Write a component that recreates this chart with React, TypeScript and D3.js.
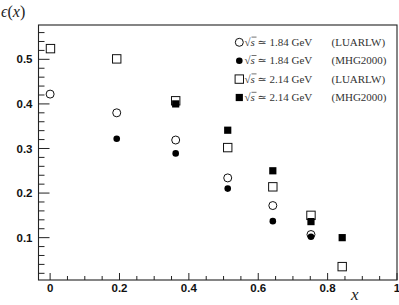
import React from "react";
import * as d3 from "d3";

const W = 399;
const H = 305;

const circOpenX = [0.0, 0.192, 0.362, 0.512, 0.642, 0.752];
const circOpenY = [0.422, 0.380, 0.319, 0.234, 0.172, 0.107];
const circFillX = [0.192, 0.362, 0.512, 0.642, 0.752];
const circFillY = [0.322, 0.289, 0.210, 0.137, 0.102];
const sqOpenX = [0.001, 0.192, 0.362, 0.512, 0.642, 0.752, 0.842];
const sqOpenY = [0.524, 0.501, 0.407, 0.302, 0.214, 0.150, 0.035];
const sqFillX = [0.362, 0.512, 0.642, 0.752, 0.842];
const sqFillY = [0.400, 0.341, 0.250, 0.136, 0.100];

const xMajor = [0, 0.2, 0.4, 0.6, 0.8, 1];
const xLabels = ["0", "0.2", "0.4", "0.6", "0.8", "1"];
const yMajor = [0.1, 0.2, 0.3, 0.4, 0.5];
const yLabels = ["0.1", "0.2", "0.3", "0.4", "0.5"];

const legendEnergy = ["1.84", "1.84", "2.14", "2.14"];
const legendModel = ["(LUARLW)", "(MHG2000)", "(LUARLW)", "(MHG2000)"];
const legendKind = ["circOpen", "circFill", "sqOpen", "sqFill"];

const left = 38.5;
const right = 397;
const top = 25;
const bottom = 280;

export default function App() {
  const x = d3.scaleLinear().domain([-0.0335, 1]).range([left, right]);
  const y = d3.scaleLinear().domain([0.005, 0.577]).range([bottom, top]);

  const xMinor = d3.range(0.05, 1.0, 0.05).filter((v) => Math.abs(v * 5 - Math.round(v * 5)) > 1e-6);
  const yMinor = d3.range(0.02, 0.57, 0.02).filter((v) => Math.abs(v * 10 - Math.round(v * 10)) > 1e-6);

  const axisColor = "#222";
  const tickFont = "'Liberation Sans', Arial, sans-serif";
  const serif = "'Liberation Serif', 'DejaVu Serif', serif";

  const marker = (kind: string, cx: number, cy: number, key: string) => {
    if (kind === "circOpen")
      return <circle key={key} cx={cx} cy={cy} r={4} fill="white" stroke="#111" strokeWidth={1} />;
    if (kind === "circFill")
      return <circle key={key} cx={cx} cy={cy} r={3.3} fill="#000" />;
    if (kind === "sqOpen")
      return <rect key={key} x={cx - 4.2} y={cy - 4.2} width={8.4} height={8.4} fill="white" stroke="#111" strokeWidth={1} />;
    return <rect key={key} x={cx - 3.6} y={cy - 3.6} width={7.2} height={7.2} fill="#000" />;
  };

  return (
    <svg width={W} height={H} style={{ position: "absolute", left: 0, top: 0, background: "white" }}>
      <rect x={0} y={0} width={W} height={H} fill="white" />
      <rect x={left} y={top} width={right - left} height={bottom - top} fill="none" stroke={axisColor} strokeWidth={1.1} />
      {yMajor.map((v, i) => (
        <g key={"ym" + i}>
          <line x1={left} x2={left + 11} y1={y(v)} y2={y(v)} stroke={axisColor} strokeWidth={1} />
          <text x={left - 6} y={y(v)} dy="0.36em" textAnchor="end" fontFamily={tickFont} fontWeight="bold" fontSize={11.5} fill="#111">
            {yLabels[i]}
          </text>
        </g>
      ))}
      {yMinor.map((v, i) => (
        <line key={"yn" + i} x1={left} x2={left + 6} y1={y(v)} y2={y(v)} stroke={axisColor} strokeWidth={1} />
      ))}
      {xMajor.map((v, i) => (
        <g key={"xm" + i}>
          <line x1={x(v)} x2={x(v)} y1={bottom} y2={bottom - 7} stroke={axisColor} strokeWidth={1} />
          <text x={x(v)} y={bottom + 12} textAnchor="middle" fontFamily={tickFont} fontWeight="bold" fontSize={11.5} fill="#111">
            {xLabels[i]}
          </text>
        </g>
      ))}
      {xMinor.map((v, i) => (
        <line key={"xn" + i} x1={x(v)} x2={x(v)} y1={bottom} y2={bottom - 4} stroke={axisColor} strokeWidth={1} />
      ))}
      <text x={1} y={17} fontFamily={serif} fontStyle="italic" fontSize={16} fill="#222">
        ϵ<tspan fontStyle="normal">(</tspan>x<tspan fontStyle="normal">)</tspan>
      </text>
      <text x={351} y={300} fontFamily={serif} fontStyle="italic" fontSize={17} fill="#222">
        x
      </text>
      {circOpenX.map((v, i) => marker("circOpen", x(v), y(circOpenY[i]), "co" + i))}
      {circFillX.map((v, i) => marker("circFill", x(v), y(circFillY[i]), "cf" + i))}
      {sqOpenX.map((v, i) => marker("sqOpen", x(v), y(sqOpenY[i]), "so" + i))}
      {sqFillX.map((v, i) => marker("sqFill", x(v), y(sqFillY[i]), "sf" + i))}
      {legendKind.map((k, i) => {
        const ly = 42.3 + i * 18.4;
        return (
          <g key={"lg" + i}>
            {marker(k, 239.3, ly, "lm" + i)}
            <text x={244.5} y={ly} dy="0.33em" fontFamily={serif} fontSize={11} fill="#333">
              √<tspan fontStyle="italic">s</tspan> ≃ {legendEnergy[i]} GeV
            </text>
            <line x1={251.5} x2={256.5} y1={ly - 5.2} y2={ly - 5.2} stroke="#333" strokeWidth={0.7} />
            <text x={331.5} y={ly} dy="0.33em" fontFamily={serif} fontSize={11} fill="#333">
              {legendModel[i]}
            </text>
          </g>
        );
      })}
    </svg>
  );
}
